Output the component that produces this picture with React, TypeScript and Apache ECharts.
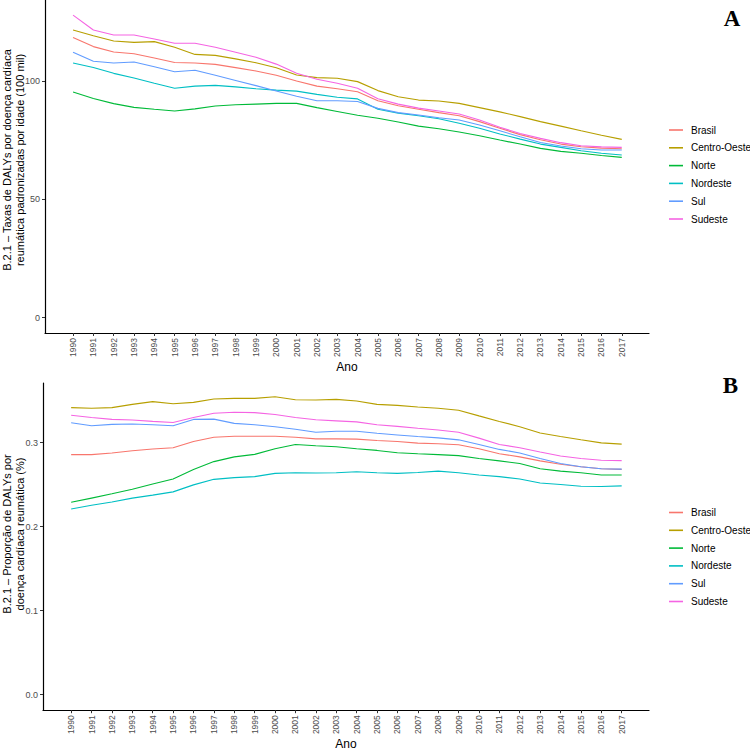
import React, { useEffect, useRef } from "react";
import * as echarts from "echarts";

const years = [1990, 1991, 1992, 1993, 1994, 1995, 1996, 1997, 1998, 1999, 2000, 2001, 2002, 2003, 2004, 2005, 2006, 2007, 2008, 2009, 2010, 2011, 2012, 2013, 2014, 2015, 2016, 2017];

const regions = ["Brasil", "Centro-Oeste", "Norte", "Nordeste", "Sul", "Sudeste"];
const colors = ["#F8766D", "#B79F00", "#00BA38", "#00BFC4", "#619CFF", "#F564E3"];

// Panel A: taxas de DALYs padronizadas por idade (100 mil)
const brasilA = [118.5, 114.6, 112.3, 111.6, 109.8, 107.9, 107.7, 107.1, 105.7, 104.3, 102.5, 100.1, 97.9, 96.8, 95.5, 91.7, 89.6, 88.1, 86.7, 85.4, 82.9, 80.1, 77.4, 75.2, 73.4, 72.3, 71.7, 71.4];
const centroA = [121.6, 119.2, 117.0, 116.4, 116.7, 114.3, 111.3, 110.9, 109.4, 107.8, 105.7, 102.6, 101.5, 101.2, 99.8, 96.0, 93.4, 92.0, 91.6, 90.6, 88.8, 87.0, 85.0, 82.9, 81.0, 79.0, 77.1, 75.4];
const norteA = [95.4, 92.7, 90.5, 88.9, 88.1, 87.4, 88.3, 89.5, 90.0, 90.3, 90.6, 90.6, 88.8, 87.2, 85.6, 84.3, 82.7, 81.0, 79.9, 78.5, 76.9, 75.1, 73.4, 71.6, 70.3, 69.5, 68.6, 67.8];
const nordesteA = [107.7, 105.8, 103.3, 101.3, 99.1, 97.0, 97.9, 98.2, 97.6, 96.8, 96.2, 95.8, 94.4, 93.2, 92.5, 88.1, 86.5, 85.4, 84.1, 82.2, 80.1, 77.7, 75.5, 73.4, 72.0, 70.6, 69.5, 68.8];
const sulA = [112.2, 108.4, 107.7, 108.1, 106.1, 104.0, 104.6, 102.5, 100.3, 98.1, 95.8, 93.6, 91.7, 91.7, 91.4, 88.5, 86.7, 85.7, 84.5, 83.6, 81.5, 79.0, 76.5, 74.1, 72.6, 71.4, 70.9, 70.9];
const sudesteA = [127.9, 121.6, 119.5, 119.5, 117.8, 116.0, 116.0, 114.3, 112.2, 110.1, 107.2, 103.3, 100.8, 99.1, 97.0, 92.6, 90.3, 88.6, 87.4, 86.1, 83.6, 80.5, 77.9, 75.8, 74.0, 72.7, 72.2, 72.0];

// Panel B: proporção de DALYs por doença cardíaca reumática (%)
const brasilB = [0.2856, 0.2856, 0.2875, 0.2903, 0.2923, 0.2938, 0.3012, 0.3063, 0.3075, 0.3075, 0.3075, 0.3063, 0.3043, 0.3043, 0.3040, 0.3024, 0.3012, 0.2993, 0.2985, 0.2973, 0.2926, 0.2867, 0.2829, 0.2782, 0.2742, 0.2711, 0.2688, 0.2680];
const centroB = [0.3415, 0.3407, 0.3415, 0.3454, 0.3486, 0.3462, 0.3478, 0.3517, 0.3525, 0.3525, 0.3545, 0.3509, 0.3505, 0.3513, 0.3493, 0.3454, 0.3442, 0.3423, 0.3407, 0.3384, 0.3317, 0.3251, 0.3188, 0.3114, 0.3071, 0.3032, 0.2996, 0.2981];
const norteB = [0.2289, 0.2339, 0.2390, 0.2445, 0.2507, 0.2566, 0.2680, 0.2773, 0.2829, 0.2859, 0.2926, 0.2977, 0.2961, 0.2950, 0.2926, 0.2906, 0.2879, 0.2867, 0.2856, 0.2844, 0.2809, 0.2782, 0.2750, 0.2688, 0.2660, 0.2641, 0.2613, 0.2613];
const nordesteB = [0.2210, 0.2254, 0.2292, 0.2339, 0.2374, 0.2413, 0.2496, 0.2562, 0.2582, 0.2594, 0.2633, 0.2641, 0.2637, 0.2641, 0.2653, 0.2641, 0.2633, 0.2644, 0.2660, 0.2641, 0.2613, 0.2594, 0.2566, 0.2519, 0.2500, 0.2480, 0.2477, 0.2484];
const sulB = [0.3235, 0.3200, 0.3216, 0.3220, 0.3211, 0.3200, 0.3275, 0.3278, 0.3228, 0.3211, 0.3188, 0.3157, 0.3122, 0.3134, 0.3134, 0.3110, 0.3090, 0.3071, 0.3055, 0.3032, 0.2977, 0.2918, 0.2876, 0.2809, 0.2750, 0.2711, 0.2688, 0.2683];
const sudesteB = [0.3325, 0.3298, 0.3275, 0.3267, 0.3251, 0.3239, 0.3298, 0.3349, 0.3360, 0.3356, 0.3333, 0.3298, 0.3270, 0.3258, 0.3246, 0.3211, 0.3192, 0.3169, 0.3149, 0.3122, 0.3052, 0.2977, 0.2938, 0.2887, 0.2840, 0.2809, 0.2789, 0.2785];

const ticksA = [0, 50, 100];
const ticksB = [0, 0.1, 0.2, 0.3];

const titleA = "B.2.1 – Taxas de DALYs por doença cardíaca\nreumática padronizadas por idade (100 mil)";
const titleB = "B.2.1 – Proporção de DALYs por\ndoença cardíaca reumática (%)";
const xTitle = "Ano";

const seriesA = [brasilA, centroA, norteA, nordesteA, sulA, sudesteA];
const seriesB = [brasilB, centroB, norteB, nordesteB, sulB, sudesteB];

const FONT = "Liberation Sans, Arial, sans-serif";

function xAxisFor(gridIndex: number) {
  return {
    type: "value",
    gridIndex,
    min: 1988.62,
    max: 2018.34,
    name: xTitle,
    nameLocation: "middle",
    nameGap: 25,
    nameTextStyle: { color: "#000", fontSize: 12, fontFamily: FONT, verticalAlign: "top" },
    splitLine: { show: false },
    axisLine: { show: true, onZero: false, lineStyle: { color: "#000", width: 1.2 } },
    axisTick: { show: true, length: 3, customValues: years, lineStyle: { color: "#333", width: 1 } },
    axisLabel: {
      customValues: years,
      rotate: 90,
      margin: 5,
      fontSize: 8.5,
      color: "#4D4D4D",
      fontFamily: FONT,
      formatter: (v: number) => String(Math.round(v)),
    },
  };
}

function yAxisFor(gridIndex: number, min: number, max: number, ticks: number[], digits: number) {
  return {
    type: "value",
    gridIndex,
    min,
    max,
    splitLine: { show: false },
    axisLine: { show: true, onZero: false, lineStyle: { color: "#000", width: 1.2 } },
    axisTick: { show: true, length: 3, customValues: ticks, lineStyle: { color: "#333", width: 1 } },
    axisLabel: {
      customValues: ticks,
      margin: 5,
      fontSize: 9,
      color: "#4D4D4D",
      fontFamily: FONT,
      formatter: (v: number) => v.toFixed(digits),
    },
  };
}

function legendFor(top: number) {
  return {
    orient: "vertical",
    left: 669,
    top,
    padding: 0,
    itemGap: 3.8,
    itemWidth: 14,
    itemHeight: 1.6,
    icon: "rect",
    selectedMode: false,
    data: regions,
    textStyle: { color: "#000", fontSize: 10, fontFamily: FONT, lineHeight: 14, padding: [0, 0, 0, 3] },
  };
}

export default function App() {
  const ref = useRef<HTMLDivElement>(null);

  useEffect(() => {
    if (!ref.current) return;
    const chart = echarts.init(ref.current, undefined, { renderer: "svg" });

    const series: any[] = [];
    regions.forEach((name, i) => {
      series.push({
        name,
        type: "line",
        xAxisIndex: 0,
        yAxisIndex: 0,
        showSymbol: false,
        symbol: "none",
        lineStyle: { color: colors[i], width: 1.1 },
        itemStyle: { color: colors[i] },
        data: years.map((y, k) => [y, seriesA[i][k]]),
      });
    });
    regions.forEach((name, i) => {
      series.push({
        name,
        type: "line",
        xAxisIndex: 1,
        yAxisIndex: 1,
        showSymbol: false,
        symbol: "none",
        lineStyle: { color: colors[i], width: 1.1 },
        itemStyle: { color: colors[i] },
        data: years.map((y, k) => [y, seriesB[i][k]]),
      });
    });

    chart.setOption({
      animation: false,
      backgroundColor: "#fff",
      color: colors,
      grid: [
        { left: 45, top: 0, width: 604, height: 333, containLabel: false },
        { left: 43, top: 383, width: 606, height: 332, containLabel: false },
      ],
      xAxis: [xAxisFor(0), xAxisFor(1)],
      yAxis: [yAxisFor(0, -6.45, 134.3, ticksA, 0), yAxisFor(1, -0.0184, 0.3708, ticksB, 1)],
      legend: [legendFor(123), legendFor(505.5)],
      graphic: [
        {
          type: "text",
          x: 13,
          y: 160,
          rotation: Math.PI / 2,
          style: { text: titleA, fontSize: 11, lineHeight: 13, fill: "#000", fontFamily: FONT, align: "center", verticalAlign: "middle" },
        },
        {
          type: "text",
          x: 13,
          y: 534,
          rotation: Math.PI / 2,
          style: { text: titleB, fontSize: 11, lineHeight: 13, fill: "#000", fontFamily: FONT, align: "center", verticalAlign: "middle" },
        },
        {
          type: "text",
          x: 732,
          y: 18,
          style: { text: "A", fontSize: 23, fontWeight: "bold", fill: "#000", fontFamily: "Liberation Serif, Times New Roman, serif", align: "center", verticalAlign: "middle" },
        },
        {
          type: "text",
          x: 730.5,
          y: 385.5,
          style: { text: "B", fontSize: 23, fontWeight: "bold", fill: "#000", fontFamily: "Liberation Serif, Times New Roman, serif", align: "center", verticalAlign: "middle" },
        },
      ],
      series,
    });

    return () => chart.dispose();
  }, []);

  return <div ref={ref} style={{ position: "fixed", left: 0, top: 0, width: 750, height: 751 }} />;
}
